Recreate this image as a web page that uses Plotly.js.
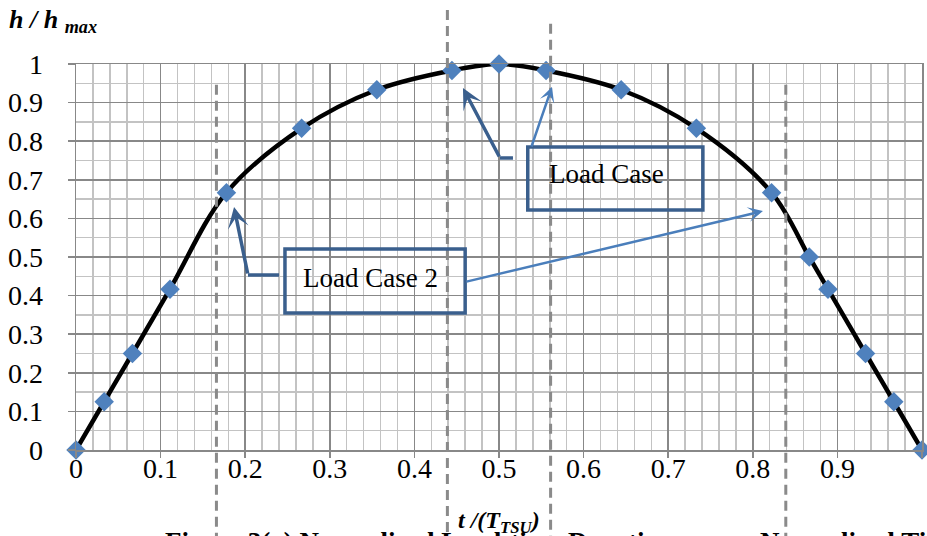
<!DOCTYPE html>
<html>
<head>
<meta charset="utf-8">
<script src="https://cdn.plot.ly/plotly-3.0.1.min.js"></script>
<style>html,body{margin:0;padding:0;background:#fff;overflow:hidden}#chart{width:927px;height:536px}</style>
</head>
<body>
<div id="chart"></div>
<script>
// Data
var tValues = [0, 0.0333, 0.0667, 0.1111, 0.1778, 0.2667, 0.3556, 0.4444, 0.5, 0.5556, 0.6444, 0.7333, 0.8222, 0.8667, 0.8889, 0.9333, 0.9667, 1];
var hValues = [0, 0.125, 0.25, 0.4167, 0.6667, 0.8333, 0.9333, 0.9833, 1, 0.9833, 0.9333, 0.8333, 0.6667, 0.5, 0.4167, 0.25, 0.125, 0];
var dividerT = [0.166, 0.439, 0.561, 0.839];
var dividerTop = [0.946, 1.14, 1.104, 0.946];
var boxLabels = ['Load Case', 'Load Case 2'];
var yTitle = '<b><i>h / h </i></b><sub><b><i>max</i></b></sub>';
var xTitle = '<b><i>t /(T</i></b><sub><b><i>TSU</i></b></sub><b><i>)</i></b>';
var caption = 'Figure 3(a) Normalized Load-time Duration versus Normalized Time';

var FONT = 'Liberation Serif, serif';
var DARK = '#3a5f8d';
var LIGHT = '#4a7ebb';
var GRID = '#888888';
var MINOR = '#c3c3c3';

var trace = {
  x: tValues, y: hValues, type: 'scatter', mode: 'lines+markers',
  line: {color: '#000000', width: 4.5, shape: 'spline'},
  marker: {symbol: 'diamond', size: 15, color: '#4f81bd'},
  cliponaxis: false, hoverinfo: 'skip'
};

var shapes = [];
dividerT.forEach(function (t, i) {
  shapes.push({type: 'line', xref: 'paper', yref: 'paper', x0: t, x1: t, y0: dividerTop[i], y1: -0.25,
    line: {color: '#8a8a8a', width: 3, dash: '10px,6px'}, layer: 'above'});
});
// label boxes
shapes.push({type: 'rect', xref: 'paper', yref: 'paper', x0: 0.534, x1: 0.741, y0: 0.622, y1: 0.785,
  line: {color: DARK, width: 3.5}, fillcolor: 'rgba(0,0,0,0)', layer: 'above'});
shapes.push({type: 'rect', xref: 'paper', yref: 'paper', x0: 0.247, x1: 0.46, y0: 0.355, y1: 0.521,
  line: {color: DARK, width: 3.5}, fillcolor: 'rgba(0,0,0,0)', layer: 'above'});
// elbow stubs of the connectors
shapes.push({type: 'line', xref: 'paper', yref: 'paper', x0: 0.5012, x1: 0.5165, y0: 0.7565, y1: 0.7565,
  line: {color: DARK, width: 3.5}, layer: 'above'});
shapes.push({type: 'line', xref: 'paper', yref: 'paper', x0: 0.2033, x1: 0.24, y0: 0.4534, y1: 0.4534,
  line: {color: DARK, width: 3.5}, layer: 'above'});

function arrow(tx, ty, sx, sy, color, w) {
  return {x: tx, y: ty, ax: sx, ay: sy, xref: 'x', yref: 'y', axref: 'x', ayref: 'y',
    text: '', showarrow: true, arrowhead: 3, arrowsize: 1, arrowwidth: w, arrowcolor: color};
}

var annotations = [
  arrow(0.4574, 0.9378, 0.5012, 0.7565, DARK, 3.5),
  arrow(0.5626, 0.9404, 0.5378, 0.7824, LIGHT, 2.5),
  arrow(0.1868, 0.6295, 0.2033, 0.4534, DARK, 3.5),
  arrow(0.812, 0.619, 0.4598, 0.4352, LIGHT, 2.5),
  {xref: 'paper', yref: 'paper', x: 0.557, y: 0.715, xanchor: 'left', yanchor: 'middle', showarrow: false,
    text: boxLabels[0], font: {family: FONT, size: 27, color: '#000'}},
  {xref: 'paper', yref: 'paper', x: 0.266, y: 0.445, xanchor: 'left', yanchor: 'middle', showarrow: false,
    text: boxLabels[1], font: {family: FONT, size: 27, color: '#000'}},
  {xref: 'paper', yref: 'paper', x: -0.082, y: 1.065, xanchor: 'left', yanchor: 'bottom', showarrow: false,
    text: yTitle, font: {family: FONT, size: 26, color: '#000'}},
  {xref: 'paper', yref: 'paper', x: 0.5, y: -0.186, xanchor: 'center', yanchor: 'middle', showarrow: false,
    text: xTitle, font: {family: FONT, size: 24, color: '#000'}},
  {xref: 'paper', yref: 'paper', x: 0.103, y: -0.195, xanchor: 'left', yanchor: 'top', showarrow: false,
    text: '<b>' + caption + '</b>', font: {family: FONT, size: 27, color: '#000'}}
];

var layout = {
  width: 927, height: 536,
  margin: {l: 76, r: 5, t: 64, b: 86},
  paper_bgcolor: '#ffffff', plot_bgcolor: '#ffffff',
  showlegend: false,
  font: {family: FONT, size: 21, color: '#000'},
  xaxis: {
    range: [0, 1], dtick: 0.1, tick0: 0, showgrid: true, gridcolor: GRID, gridwidth: 1.5,
    zeroline: false, showline: true, mirror: true, linecolor: GRID, linewidth: 1.5,
    ticks: 'outside', ticklen: 6, tickwidth: 1.5, tickcolor: GRID,
    tickfont: {family: FONT, size: 28, color: '#000'}, ticklabelstandoff: -13,
    minor: {dtick: 0.02, showgrid: true, gridcolor: MINOR, gridwidth: 1.5, ticks: ''},
    fixedrange: true
  },
  yaxis: {
    range: [0, 1], dtick: 0.1, tick0: 0, showgrid: true, gridcolor: GRID, gridwidth: 1.5,
    zeroline: false, showline: true, mirror: true, linecolor: GRID, linewidth: 1.5,
    ticks: 'outside', ticklen: 7, tickwidth: 1.5, tickcolor: GRID,
    tickfont: {family: FONT, size: 28, color: '#000'}, ticklabelstandoff: 19,
    minor: {dtick: 0.05, showgrid: true, gridcolor: MINOR, gridwidth: 1.5, ticks: ''},
    fixedrange: true
  },
  shapes: shapes,
  annotations: annotations
};

Plotly.newPlot('chart', [trace], layout, {displayModeBar: false, staticPlot: true});
</script>
</body>
</html>
